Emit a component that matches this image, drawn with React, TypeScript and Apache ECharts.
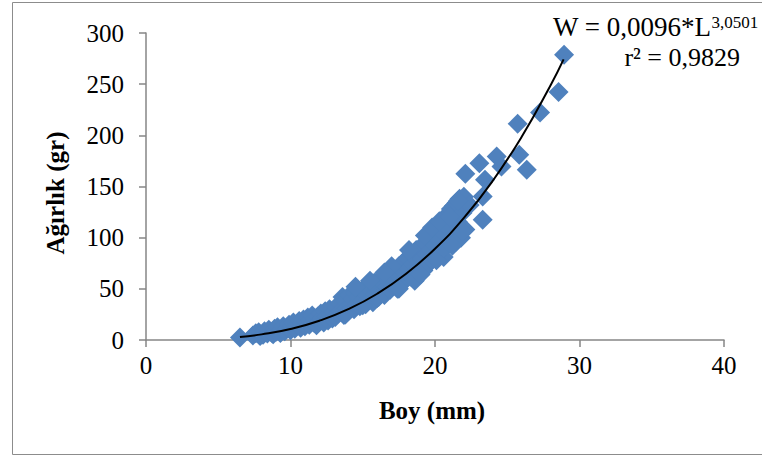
import React, { useEffect, useRef } from "react";
import * as echarts from "echarts";

const boyMm: number[] = [
  6.5, 7.4, 7.6, 7.9, 7.8,
  8.1, 8.2, 8.4, 8.5, 8.7, 8.8, 8.9,
  9.0, 9.1, 9.3, 9.4, 9.5, 9.6, 9.8, 9.9,
  10.0, 10.1, 10.2, 10.3, 10.5, 10.6, 10.7, 10.8, 10.9,
  11.0, 11.1, 11.2, 11.3, 11.4, 11.5, 11.6, 11.7, 11.8, 11.9,
  12.0, 12.1, 12.2, 12.3, 12.4, 12.5, 12.6, 12.7, 12.8, 12.9,
  13.0, 13.1, 13.2, 13.3, 13.4, 13.5, 13.6, 13.7, 13.8, 13.9,
  14.0, 14.1, 14.2, 14.3, 14.4, 14.5, 14.6, 14.7, 14.8, 14.9,
  15.0, 15.1, 15.2, 15.3, 15.4, 15.5, 15.6, 15.7, 15.8, 15.9,
  16.0, 16.1, 16.2, 16.3, 16.4, 16.5, 16.6, 16.7, 16.8, 16.9,
  17.0, 17.1, 17.2, 17.3, 17.4, 17.5, 17.6, 17.7, 17.8, 17.9,
  18.0, 18.1, 18.2, 18.3, 18.4, 18.5, 18.6, 18.7, 18.8, 18.9,
  19.0, 19.1, 19.2, 19.3, 19.4, 19.5, 19.6, 19.7, 19.8, 19.9,
  20.0, 20.1, 20.2, 20.3, 20.4, 20.5, 20.6, 20.7, 20.8, 20.9,
  21.0, 21.1, 21.2, 21.3, 21.45, 21.5, 21.6, 21.7, 21.9, 22.1,
  21.8, 22.0, 22.4, 22.1, 23.07, 23.46, 23.3, 23.3, 24.27, 24.6,
  25.72, 25.83, 26.35, 27.27, 28.55, 28.93,
  18.2, 18.6, 19.0, 19.3, 19.8, 20.1, 20.3, 20.6, 21.0, 21.2,
  21.6, 21.9, 17.5, 17.0, 16.5, 16.0, 15.5, 15.0, 14.5, 13.8,
];
const agirlikGr: number[] = [
  2.5, 4.5, 6.5, 3.8, 7.5,
  5.2, 8.5, 6.3, 10, 7.2, 5.5, 11,
  8, 12.5, 6.8, 10.5, 13.5, 8.5, 11.5, 15,
  9.5, 13, 17, 11, 15, 18.5, 12, 16, 20,
  13.5, 18, 22, 15, 19.5, 24, 17, 21, 14.5, 23,
  18, 26, 21, 17, 28, 23, 19, 30, 25, 21,
  27, 22.5, 32, 26, 36, 29, 42, 24.5, 38, 31,
  28, 44, 34, 40, 30, 46, 36, 42, 33, 48,
  38, 50, 35, 44, 54, 40, 48, 37, 56, 45,
  50, 42, 60, 47, 55, 44, 63, 52, 58, 49,
  64, 53, 68, 58, 50, 72, 62, 55, 76, 66,
  60, 80, 70, 62, 84, 74, 66, 88, 78, 70,
  90, 80, 68, 95, 84, 74, 100, 88, 78, 104,
  92, 82, 110, 97, 86, 116, 81, 103, 122, 94,
  108, 128, 100, 131, 96, 134, 115, 138, 124, 108,
  100, 140, 132, 162.4, 172.8, 156.5, 140.2, 117.4, 179.3, 169.5,
  211.3, 181, 166.3, 222.3, 242.3, 278.8,
  88, 58, 64, 102, 110, 78, 116, 90, 120, 92,
  136, 106, 50, 72, 66, 41, 58, 34, 52, 25,
];

// Power trendline W = 0,0096*L^3,0501 as drawn in the reference
const trendBoy: number[] = [6.5, 8, 10, 12, 14, 16, 18, 20, 22, 24, 26, 28, 28.9];
const trendAgirlik: number[] = [2.9, 5.5, 10.8, 18.8, 30.1, 45.2, 64.7, 89.2, 119.3, 155.6, 198.6, 249.0, 274.2];

const xTicks = { min: 0, max: 40, interval: 10 };
const yTicks = { min: 0, max: 300, interval: 50 };

const FONT = "'Liberation Serif', 'Times New Roman', serif";
const AXIS_GRAY = "#868686";

export default function App() {
  const ref = useRef<HTMLDivElement>(null);
  useEffect(() => {
    if (!ref.current) return;
    const chart = echarts.init(ref.current, undefined, { renderer: "svg" });
    const scatterData = boyMm.map((b, i) => [b, agirlikGr[i]]);
    const trendData = trendBoy.map((b, i) => [b, trendAgirlik[i]]);
    chart.setOption({
      animation: false,
      backgroundColor: "#ffffff",
      grid: { left: 146, right: 38, top: 33, bottom: 117, containLabel: false },
      xAxis: {
        type: "value",
        min: xTicks.min,
        max: xTicks.max,
        interval: xTicks.interval,
        axisLine: { show: true, lineStyle: { color: AXIS_GRAY, width: 1.5 } },
        axisTick: { show: true, inside: false, length: 7, lineStyle: { color: AXIS_GRAY, width: 1.5 } },
        splitLine: { show: false },
        axisLabel: { fontSize: 25, color: "#000", fontFamily: FONT, margin: 13 },
      },
      yAxis: {
        type: "value",
        min: yTicks.min,
        max: yTicks.max,
        interval: yTicks.interval,
        axisLine: { show: true, lineStyle: { color: AXIS_GRAY, width: 1.5 } },
        axisTick: { show: true, inside: false, length: 7, lineStyle: { color: AXIS_GRAY, width: 1.5 } },
        splitLine: { show: false },
        axisLabel: { fontSize: 25, color: "#000", fontFamily: FONT, margin: 22 },
      },
      series: [
        {
          type: "scatter",
          data: scatterData,
          symbol: "diamond",
          symbolSize: 20,
          itemStyle: { color: "#4F81BD", opacity: 1 },
          z: 2,
        },
        {
          type: "line",
          data: trendData,
          smooth: true,
          showSymbol: false,
          symbol: "none",
          lineStyle: { color: "#000", width: 2 },
          z: 3,
        },
      ],
      graphic: [
        {
          type: "rect",
          shape: { x: 12.5, y: 2.5, width: 800, height: 452 },
          style: { fill: "none", stroke: "#8c8c8c", lineWidth: 1 },
          silent: true,
          z: -1,
        },
        {
          type: "text",
          x: 432,
          y: 410,
          style: {
            text: "Boy (mm)",
            fontFamily: FONT,
            fontSize: 25,
            fontWeight: "bold",
            fill: "#000",
            align: "center",
            verticalAlign: "middle",
          },
        },
        {
          type: "text",
          x: 55,
          y: 193,
          rotation: Math.PI / 2,
          style: {
            text: "Ağırlık (gr)",
            fontFamily: FONT,
            fontSize: 25,
            fontWeight: "bold",
            fill: "#000",
            align: "center",
            verticalAlign: "middle",
          },
        },
        {
          type: "text",
          x: 553,
          y: 27,
          style: {
            text: "{m|W = 0,0096*L}{s|3,0501}",
            fontFamily: FONT,
            fill: "#000",
            align: "left",
            verticalAlign: "middle",
            rich: {
              m: { fontFamily: FONT, fontSize: 27, lineHeight: 27, fill: "#000" },
              s: { fontFamily: FONT, fontSize: 17, lineHeight: 17, fill: "#000", verticalAlign: "top" },
            },
          },
        },
        {
          type: "text",
          x: 740,
          y: 57,
          style: {
            text: "r² = 0,9829",
            fontFamily: FONT,
            fontSize: 26,
            fill: "#000",
            align: "right",
            verticalAlign: "middle",
          },
        },
      ],
    });
    return () => chart.dispose();
  }, []);
  return (
    <div
      ref={ref}
      style={{ position: "fixed", left: 0, top: 0, width: 762, height: 457 }}
    />
  );
}
